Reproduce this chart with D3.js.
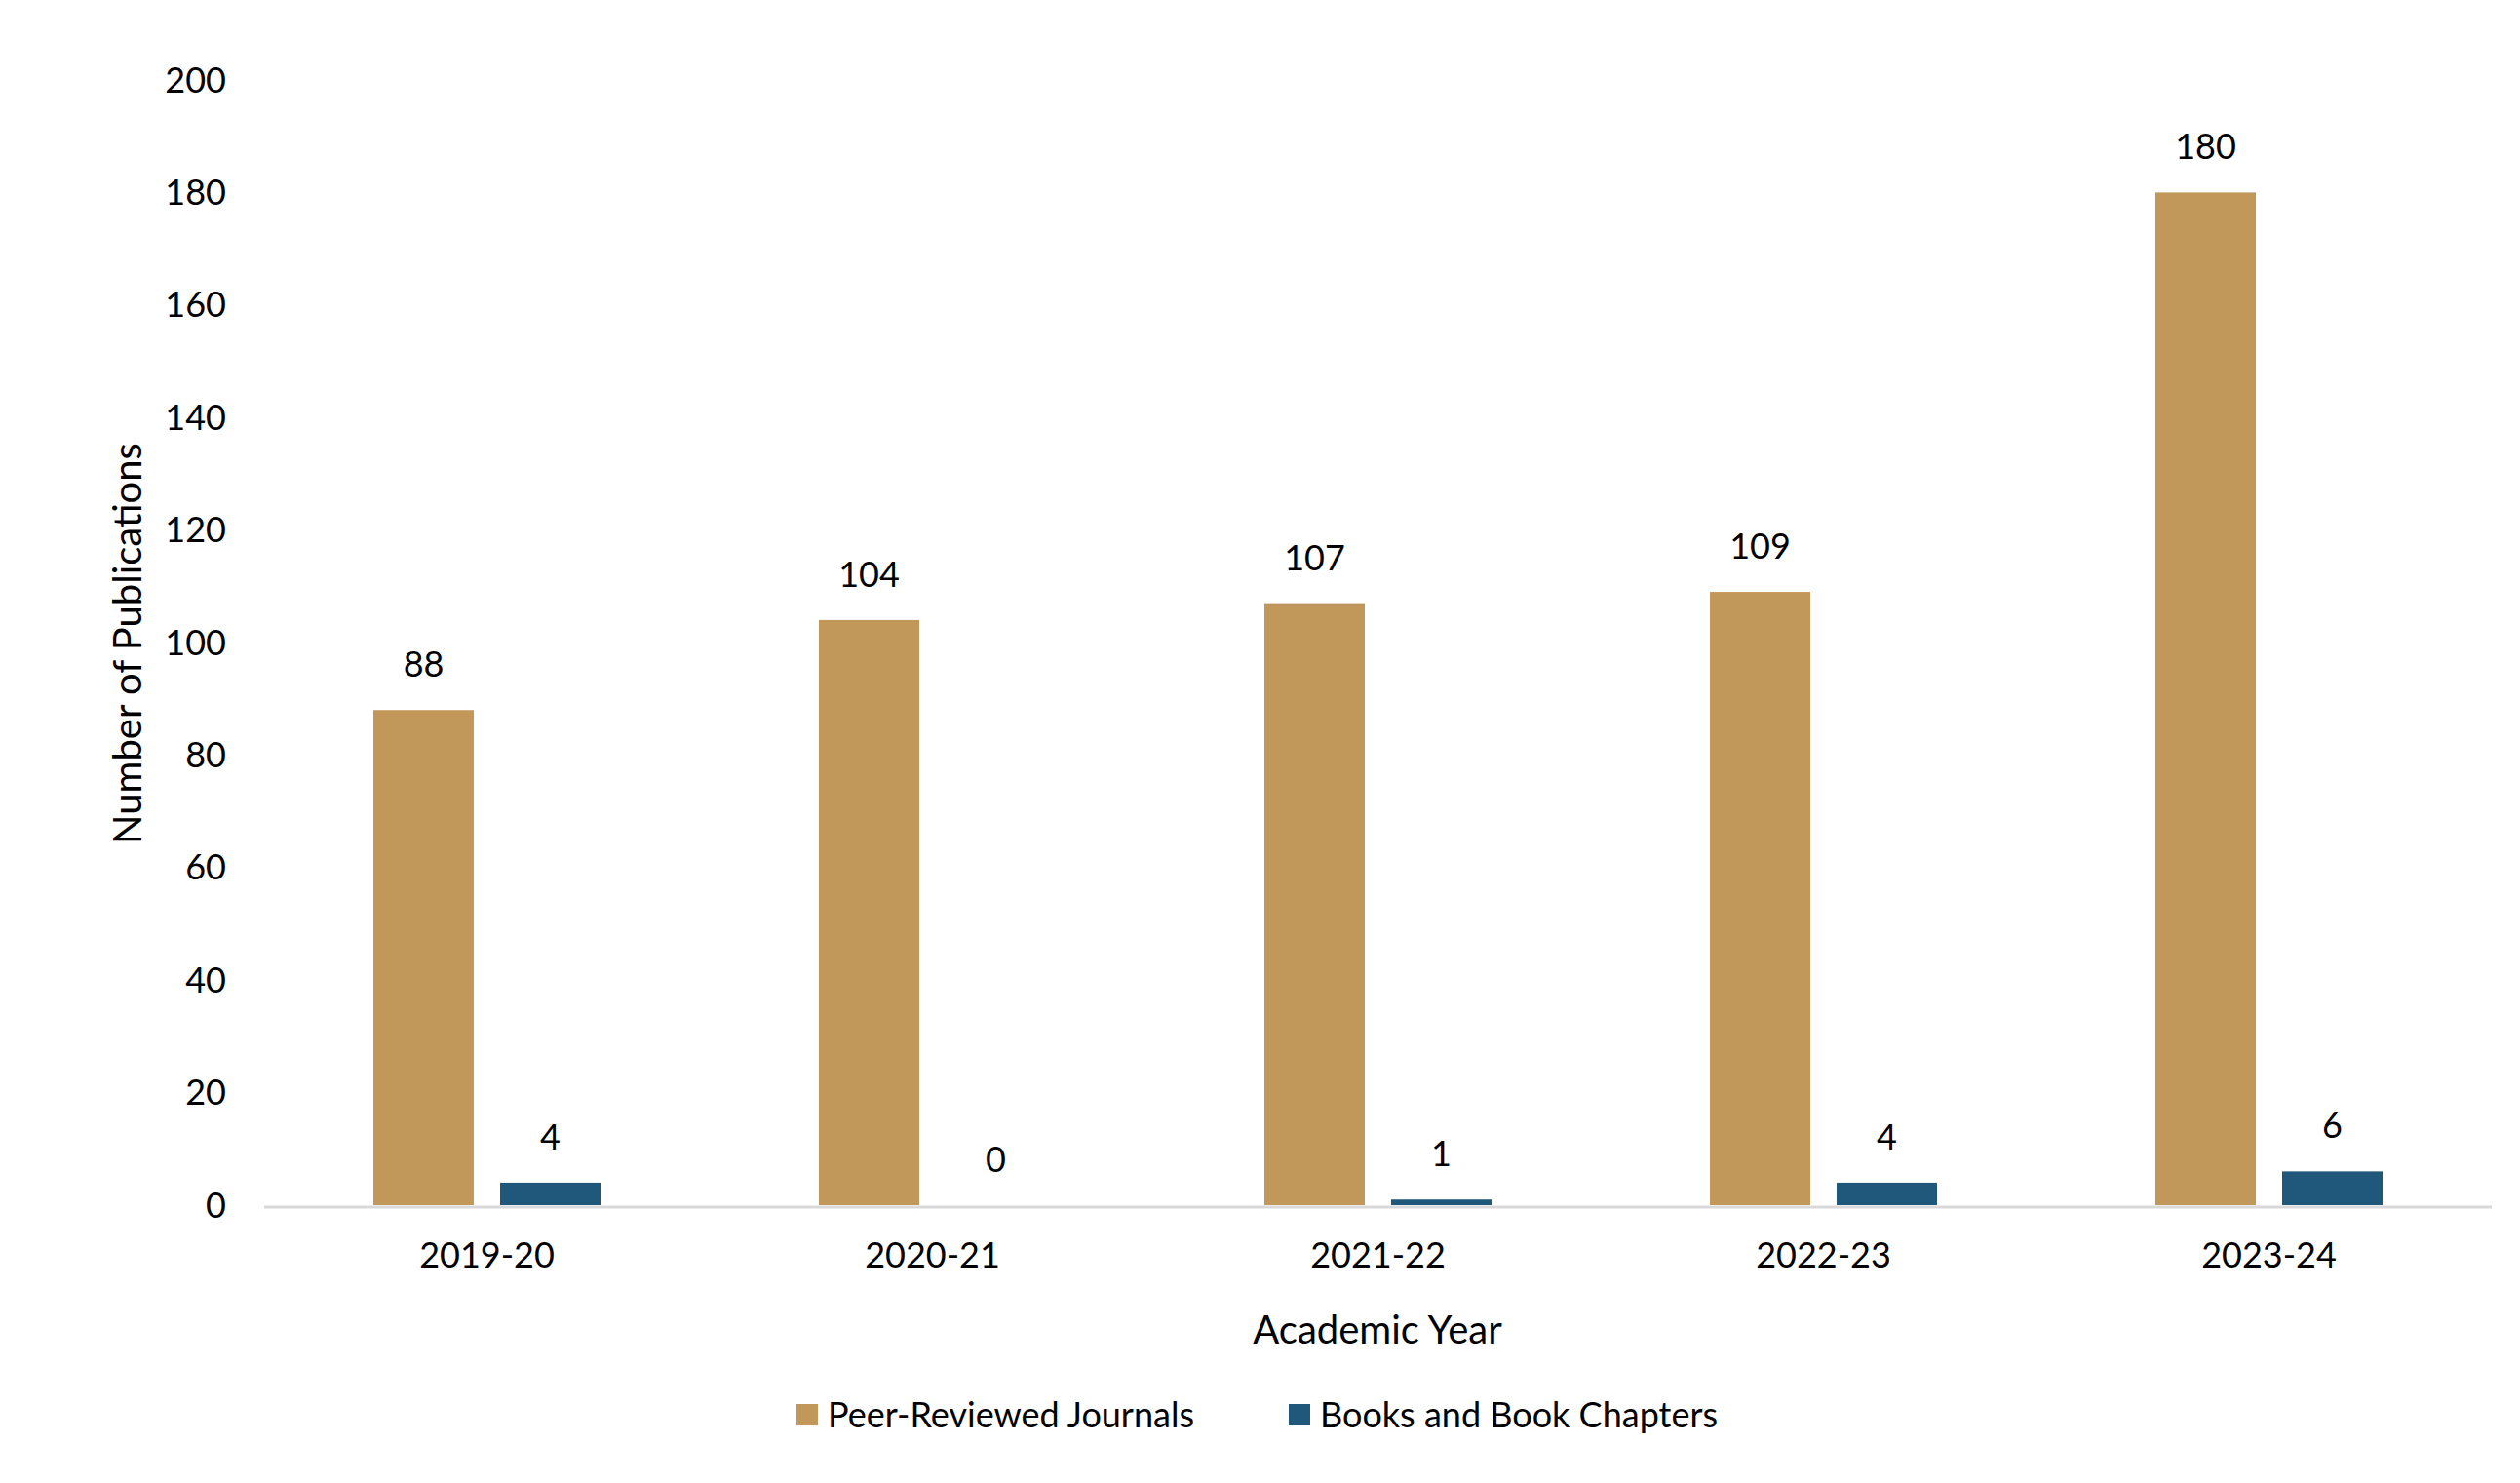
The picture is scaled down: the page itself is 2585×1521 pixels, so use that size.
<!DOCTYPE html>
<html><head><meta charset="utf-8">
<script src="https://cdn.jsdelivr.net/npm/d3@7"></script>
<style>body{margin:0;background:#fff}text{font-family:Lato,"Open Sans",sans-serif;fill:#000}</style>
</head><body><svg id="chart" width="2585" height="1521"></svg>
<script>
const years=['2019-20','2020-21','2021-22','2022-23','2023-24'];
const journals=[88,104,107,109,180];
const books=[4,0,1,4,6];
const seriesNames=['Peer-Reviewed Journals','Books and Book Chapters'];
const colors=['#c1975a','#1f587b'];
const yTicks=[0,20,40,60,80,100,120,140,160,180,200];

const svg=d3.select('#chart');
const x=d3.scaleBand().domain(years).range([271,2556]);
const y=d3.scaleLinear().domain([0,200]).range([1236,82]);
const barW=103, gap=27;

// y tick labels
svg.append('g').selectAll('text').data(yTicks).join('text')
    .attr('x',232).attr('y',d=>y(d)).attr('dy','0.35em')
    .attr('text-anchor','end').style('font-size','36px').text(d=>d);

// axis line
svg.append('line').attr('x1',271).attr('x2',2556).attr('y1',y(0)+2).attr('y2',y(0)+2)
    .attr('stroke','#d9d9d9').attr('stroke-width',3);

const data=years.map((yr,i)=>({yr,vals:[journals[i],books[i]]}));
const g=svg.append('g').selectAll('g').data(data).join('g')
    .attr('transform',d=>`translate(${x(d.yr)+x.bandwidth()/2},0)`);
[0,1].forEach(s=>{
    const off=s===0?-(gap/2+barW):gap/2;
    g.append('rect').attr('x',off).attr('width',barW)
        .attr('y',d=>y(d.vals[s])).attr('height',d=>y(0)-y(d.vals[s]))
        .attr('fill',colors[s]);
    g.append('text').attr('x',off+barW/2).attr('y',d=>y(d.vals[s])-34)
        .attr('text-anchor','middle').style('font-size','36px').text(d=>d.vals[s]);
});

// x tick labels
svg.append('g').selectAll('text').data(years).join('text')
    .attr('x',d=>x(d)+x.bandwidth()/2).attr('y',1300)
    .attr('text-anchor','middle').style('font-size','36px').text(d=>d);

svg.append('text').attr('x',1413).attr('y',1378).attr('text-anchor','middle')
    .style('font-size','40px').text('Academic Year');
svg.append('text').attr('transform','translate(145,660) rotate(-90)').attr('text-anchor','middle')
    .style('font-size','40px').text('Number of Publications');

// legend
const legX=[817,1322];
const leg=svg.append('g').selectAll('g').data(seriesNames).join('g')
    .attr('transform',(d,i)=>`translate(${legX[i]},1440)`);
leg.append('rect').attr('width',22).attr('height',22).attr('fill',(d,i)=>colors[i]);
leg.append('text').attr('x',32).attr('y',11).attr('dy','0.35em').style('font-size','36px').text(d=>d);
</script></body></html>
